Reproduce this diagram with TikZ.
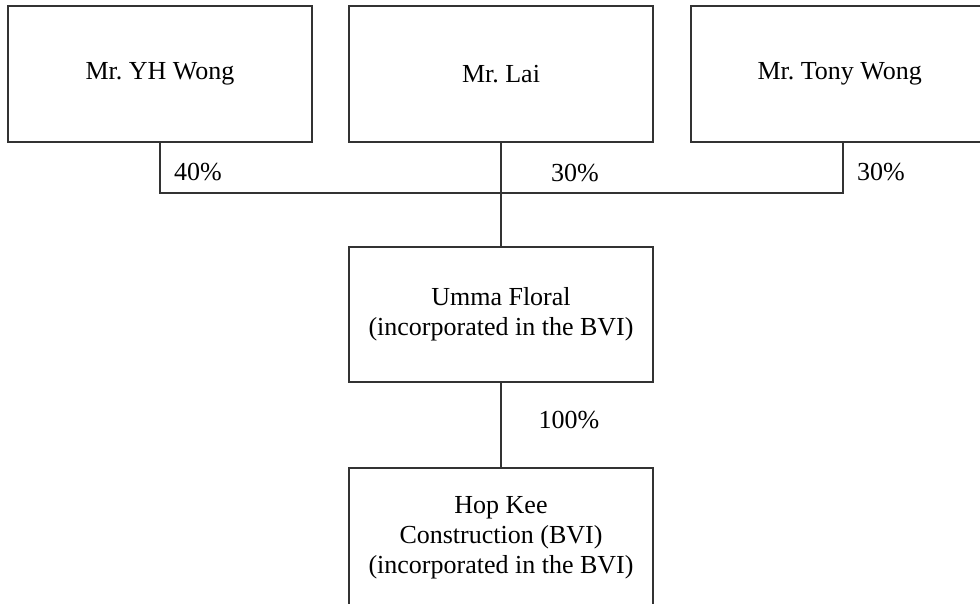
\documentclass[tikz,border=0pt]{standalone}
\usepackage{fontspec}
\setmainfont{Liberation Serif}
\tikzset{
    orgbox/.style={draw=black!80, line width=1.3pt, minimum width=304pt,
        align=center, inner sep=0pt, font=\fontsize{26}{30}\selectfont},
    share/.style={font=\fontsize{26}{30}\selectfont, inner sep=0pt},
    link/.style={draw=black!80, line width=1.3pt}
}
\begin{document}
\begin{tikzpicture}[x=1pt, y=-1pt]
        \useasboundingbox (0,0) rectangle (980,603);
        \clip (0,0) rectangle (980,603);

        % Shareholders
        \foreach \n/\x/\txt in {
            yh/160/Mr.\ YH Wong,
            lai/501/Mr.\ Lai,
            tony/843/Mr.\ Tony Wong
            } {
            \node[orgbox, minimum height=136pt] (\n) at (\x, 74) {\txt};
        }

        % Companies
        \node[orgbox, minimum height=135pt] (umma) at (501, 314.5)
            {Umma Floral\\(incorporated in the BVI)};
        \node[orgbox, minimum height=140pt] (hopkee) at (501, 538)
            {Hop Kee\\Construction (BVI)\\(incorporated in the BVI)};

        % Links
        \coordinate (bar) at (501, 193);
        \draw[link] (yh.south) |- (bar) -| (tony.south);
        \draw[link] (lai.south) -- (umma.north);
        \draw[link] (umma.south) -- (hopkee.north);

        % Shares
        \node[share] (pyh) at (198, 172) {40\%};
        \node[share] (plai) at (575, 173) {30\%};
        \node[share] (ptony) at (881, 172) {30\%};
        \node[share] (pumma) at (569, 420) {100\%};
    \end{tikzpicture}
\end{document}
